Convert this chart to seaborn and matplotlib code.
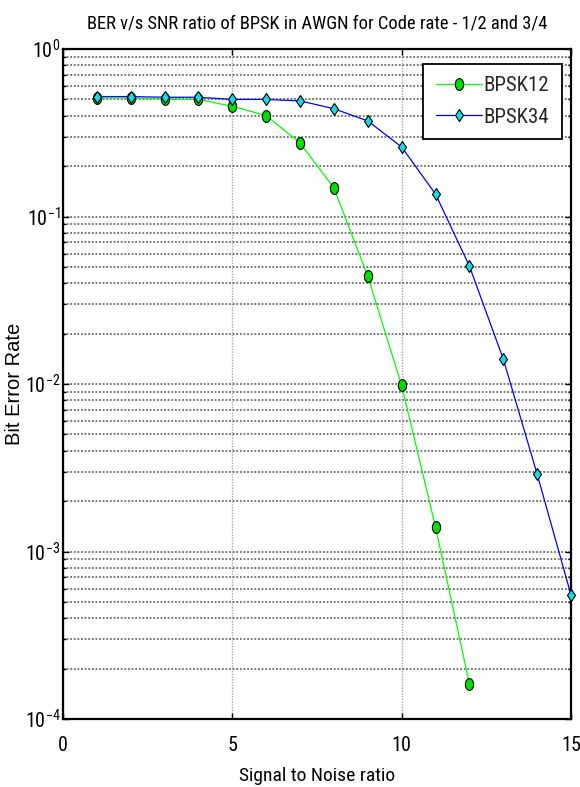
import numpy as np
import pandas as pd
import matplotlib
matplotlib.use("Agg")
import matplotlib.pyplot as plt
from matplotlib.path import Path
from matplotlib.transforms import Affine2D
from matplotlib.ticker import FixedLocator, LogLocator, NullFormatter, NullLocator
import seaborn as sns

# Simulated BER curves for BPSK over AWGN at two code rates
snr_half = [1, 2, 3, 4, 5, 6, 7, 8, 9, 10, 11, 12]
ber_half = [0.51, 0.51, 0.50, 0.50, 0.455, 0.40, 0.275, 0.148, 0.044, 0.0098,
            0.0014, 0.000162]

snr_threeq = [1, 2, 3, 4, 5, 6, 7, 8, 9, 10, 11, 12, 13, 14, 15]
ber_threeq = [0.52, 0.52, 0.515, 0.515, 0.50, 0.50, 0.49, 0.44, 0.372, 0.26,
              0.136, 0.0506, 0.0141, 0.0029, 0.00055]

series_names = ["BPSK12", "BPSK34"]

x_ticks = [0, 5, 10, 15]
x_tick_labels = ["0", "5", "10", "15"]
y_ticks = [1e-4, 1e-3, 1e-2, 1e-1, 1e0]
y_tick_labels = [r"$\mathdefault{10^{-4}}$", r"$\mathdefault{10^{-3}}$",
                 r"$\mathdefault{10^{-2}}$", r"$\mathdefault{10^{-1}}$",
                 r"$\mathdefault{10^{0}}$"]

title_text = "BER v/s SNR ratio of BPSK in AWGN for Code rate - 1/2 and 3/4"
x_label = "Signal to Noise ratio"
y_label = "Bit Error Rate"

sns.set_theme(style="ticks")
narrow = ["Roboto Condensed", "Liberation Sans", "DejaVu Sans"]
plt.rcParams["font.family"] = narrow
plt.rcParams["mathtext.fontset"] = "custom"
plt.rcParams["mathtext.rm"] = "Roboto Condensed"
plt.rcParams["axes.unicode_minus"] = False

df_half = pd.DataFrame({"snr": snr_half, "ber": ber_half})
df_threeq = pd.DataFrame({"snr": snr_threeq, "ber": ber_threeq})

fig = plt.figure(figsize=(5.8, 7.87), dpi=100)
ax = fig.add_axes([63 / 580, 1 - 719 / 787, 508 / 580, 670 / 787])

# tall oval marker for the rate-1/2 curve
oval = Path.unit_circle().transformed(Affine2D().scale(0.7, 1.0))

sns.lineplot(data=df_half, x="snr", y="ber", ax=ax, color="#00ff00",
             linewidth=0.9, marker=oval, markersize=8.5,
             markerfacecolor="#00e000", markeredgecolor="black",
             markeredgewidth=0.8, label=series_names[0], clip_on=False,
             zorder=3)
sns.lineplot(data=df_threeq, x="snr", y="ber", ax=ax, color="#0000ff",
             linewidth=0.9, marker="d", markersize=6.3,
             markerfacecolor="#11dde8", markeredgecolor="black",
             markeredgewidth=0.8, label=series_names[1], clip_on=False,
             zorder=3)

ax.set_yscale("log")
ax.set_xlim(0, 15)
ax.set_ylim(1e-4, 1e0)

ax.xaxis.set_major_locator(FixedLocator(x_ticks))
ax.set_xticklabels(x_tick_labels)
ax.xaxis.set_minor_locator(NullLocator())
ax.yaxis.set_major_locator(FixedLocator(y_ticks))
ax.set_yticklabels(y_tick_labels)
ax.yaxis.set_minor_locator(LogLocator(base=10, subs=np.arange(2, 10), numticks=20))
ax.yaxis.set_minor_formatter(NullFormatter())

ax.tick_params(axis="both", which="both", direction="in", top=True, right=True,
               colors="black", labelsize=14.5)
ax.tick_params(axis="both", which="major", length=4, width=1.0)
ax.tick_params(axis="both", which="minor", length=2.5, width=1.0)
ax.tick_params(axis="x", which="major", pad=12)
ax.tick_params(axis="y", which="major", pad=2)

# MATLAB-like grid: dense horizontal log grid, light vertical major grid
ax.grid(False)
ax.yaxis.grid(True, which="both", color="0.42", linestyle=(0, (1, 1)),
              linewidth=1.3)
ax.xaxis.grid(True, which="major", color="0.65", linestyle=(0, (1, 1)),
              linewidth=1.0)
ax.set_axisbelow(True)

for side in ["left", "right", "top", "bottom"]:
    ax.spines[side].set_visible(True)
    ax.spines[side].set_color("black")
    ax.spines[side].set_linewidth(1.6)

ax.set_title(title_text, fontsize=13.3, pad=15, color="black")
ax.set_xlabel(x_label, fontsize=14, labelpad=9, color="black")
ax.set_ylabel(y_label, fontsize=14.5, color="black",
              family=["Liberation Sans", "DejaVu Sans"])
ax.yaxis.set_label_coords(-0.076, 0.5)

leg = ax.legend(loc="upper right", bbox_to_anchor=(0.982, 0.978),
                borderaxespad=0, fancybox=False, framealpha=1,
                edgecolor="black", fontsize=15, handlelength=2.2,
                labelspacing=0.6, borderpad=0.6, handletextpad=0.1)
leg.get_frame().set_linewidth(1.3)

fig.savefig("out.png", dpi=100)
